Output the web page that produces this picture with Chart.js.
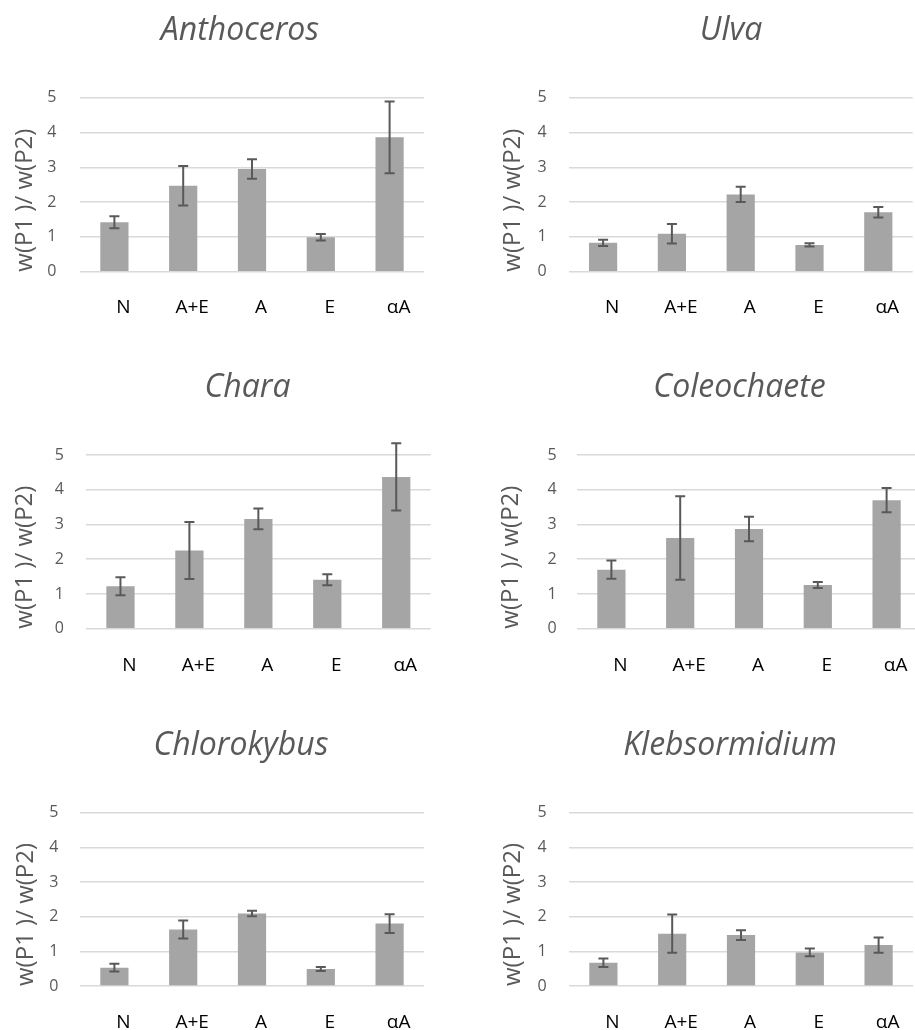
<!DOCTYPE html>
<html>
<head>
<meta charset="utf-8">
<script src="https://cdn.jsdelivr.net/npm/chart.js@4.4.0/dist/chart.umd.min.js"></script>
<style>
  html, body { margin: 0; padding: 0; background: #fff; overflow: hidden; }
  body { width: 915px; height: 1030px; position: relative; }
  canvas { position: absolute; }
</style>
</head>
<body>
<script>
// treatments on the x axis
const categories = ['N', 'A+E', 'A', 'E', 'αA'];
const yTicks = [0, 1, 2, 3, 4, 5];
const yTitle = 'w(P1 )/ w(P2)';

const anthocerosMeans = [1.42, 2.47, 2.95, 0.99, 3.86];
const anthocerosErrors = [0.17, 0.57, 0.28, 0.09, 1.03];

const ulvaMeans = [0.83, 1.09, 2.22, 0.77, 1.71];
const ulvaErrors = [0.09, 0.28, 0.22, 0.045, 0.15];

const charaMeans = [1.22, 2.25, 3.16, 1.41, 4.37];
const charaErrors = [0.26, 0.82, 0.30, 0.16, 0.97];

const coleochaeteMeans = [1.70, 2.61, 2.87, 1.26, 3.70];
const coleochaeteErrors = [0.26, 1.20, 0.35, 0.085, 0.35];

const chlorokybusMeans = [0.53, 1.63, 2.09, 0.49, 1.80];
const chlorokybusErrors = [0.11, 0.26, 0.08, 0.055, 0.27];

const klebsormidiumMeans = [0.67, 1.51, 1.47, 0.97, 1.18];
const klebsormidiumErrors = [0.12, 0.55, 0.14, 0.11, 0.22];

// page layout (px): rows and columns of the 3x2 grid
const rows = [
    { y0: 0, h: 340, titleY: 31, gridTop: 97.7, gridBottom: 271.7, labelY: 306 },
    { y0: 340, h: 350, titleY: 387.5, gridTop: 455, gridBottom: 628.7, labelY: 663.5 },
    { y0: 690, h: 340, titleY: 745.5, gridTop: 812.7, gridBottom: 986, labelY: 1021 }
];

// canvas spans x0..x0+w so that the chart title is centred like the reference
const panels = [
    { name: 'Anthoceros', means: anthocerosMeans, errors: anthocerosErrors, row: 0,
      x0: 0, w: 480, plotL: 80, plotR: 424, axisX: 25, tickRight: 56.5 },
    { name: 'Ulva', means: ulvaMeans, errors: ulvaErrors, row: 0,
      x0: 500, w: 462, plotL: 568.7, plotR: 912.7, axisX: 513, tickRight: 546.7 },
    { name: 'Chara', means: charaMeans, errors: charaErrors, row: 1,
      x0: 0, w: 495, plotL: 86, plotR: 430.7, axisX: 25, tickRight: 64 },
    { name: 'Coleochaete', means: coleochaeteMeans, errors: coleochaeteErrors, row: 1,
      x0: 495, w: 489, plotL: 577, plotR: 921, axisX: 511, tickRight: 556.7 },
    { name: 'Chlorokybus', means: chlorokybusMeans, errors: chlorokybusErrors, row: 2,
      x0: 0, w: 482, plotL: 80, plotR: 424, axisX: 26, tickRight: 58.3 },
    { name: 'Klebsormidium', means: klebsormidiumMeans, errors: klebsormidiumErrors, row: 2,
      x0: 500, w: 460, plotL: 569, plotR: 913, axisX: 513, tickRight: 546.7 }
];

const FONT = "'Open Sans', 'DejaVu Sans', sans-serif";
const TITLE_SIZE = 32;
const LABEL_SIZE = 19;
const TICK_SIZE = 16;
const AXIS_TITLE_SIZE = 24;

// draws +/- error bars through the y scale
const errorBars = {
    id: 'errorBars',
    afterDatasetsDraw(chart) {
        const { ctx, scales: { y } } = chart;
        const ds = chart.data.datasets[0];
        const meta = chart.getDatasetMeta(0);
        ctx.save();
        ctx.strokeStyle = '#595959';
        ctx.lineWidth = 2;
        meta.data.forEach((bar, i) => {
            const hi = y.getPixelForValue(ds.data[i] + ds.errors[i]);
            const lo = y.getPixelForValue(ds.data[i] - ds.errors[i]);
            const cap = 5;
            ctx.beginPath();
            ctx.moveTo(bar.x, hi);
            ctx.lineTo(bar.x, lo);
            ctx.moveTo(bar.x - cap, hi);
            ctx.lineTo(bar.x + cap, hi);
            ctx.moveTo(bar.x - cap, lo);
            ctx.lineTo(bar.x + cap, lo);
            ctx.stroke();
        });
        ctx.restore();
    }
};

panels.forEach(p => {
    const r = rows[p.row];
    const canvas = document.createElement('canvas');
    canvas.width = p.w;
    canvas.height = r.h;
    canvas.style.left = p.x0 + 'px';
    canvas.style.top = r.y0 + 'px';
    document.body.append(canvas);

    const titleLh = TITLE_SIZE * 1.2;
    const labelLh = LABEL_SIZE * 1.2;
    const axisLh = AXIS_TITLE_SIZE * 1.2;

    new Chart(canvas.getContext('2d'), {
        type: 'bar',
        data: {
            labels: categories,
            datasets: [{
                data: p.means,
                errors: p.errors,
                backgroundColor: '#A5A5A5',
                borderWidth: 0,
                categoryPercentage: 1,
                barPercentage: 0.41
            }]
        },
        options: {
            responsive: false,
            animation: false,
            layout: { padding: 0 },
            scales: {
                x: {
                    grid: { display: false },
                    border: { display: false },
                    ticks: {
                        color: '#000',
                        font: { family: FONT, size: LABEL_SIZE },
                        padding: r.labelY - r.gridBottom - labelLh / 2 - 6,
                        labelOffset: 9,
                        maxRotation: 0
                    },
                    afterFit: s => { s.height = r.y0 + r.h - r.gridBottom; }
                },
                y: {
                    min: 0,
                    max: 5,
                    afterBuildTicks: s => { s.ticks = yTicks.map(v => ({ value: v })); },
                    grid: { color: '#D9D9D9', lineWidth: 1.5, drawTicks: false },
                    border: { display: false },
                    ticks: {
                        color: '#595959',
                        font: { family: FONT, size: TICK_SIZE },
                        padding: p.plotL - p.tickRight
                    },
                    title: {
                        display: true,
                        text: yTitle,
                        align: 'start',
                        color: '#595959',
                        font: { family: FONT, size: AXIS_TITLE_SIZE },
                        padding: { top: p.axisX - p.x0 - axisLh / 2, bottom: 0 }
                    },
                    afterFit: s => { s.width = p.plotL - p.x0; }
                },
                // empty right-hand axis, only keeps space right of the plot
                pad: {
                    type: 'linear',
                    position: 'right',
                    grid: { display: false },
                    border: { display: false },
                    ticks: { display: false },
                    afterFit: s => { s.width = p.x0 + p.w - p.plotR; }
                }
            },
            plugins: {
                legend: { display: false },
                tooltip: { enabled: false },
                title: {
                    display: true,
                    text: p.name,
                    color: '#595959',
                    font: { family: FONT, size: TITLE_SIZE, style: 'italic', weight: 'normal' },
                    padding: {
                        top: r.titleY - r.y0 - titleLh / 2,
                        bottom: r.gridTop - r.titleY - titleLh / 2
                    }
                }
            }
        },
        plugins: [errorBars]
    });
});
</script>
</body>
</html>
